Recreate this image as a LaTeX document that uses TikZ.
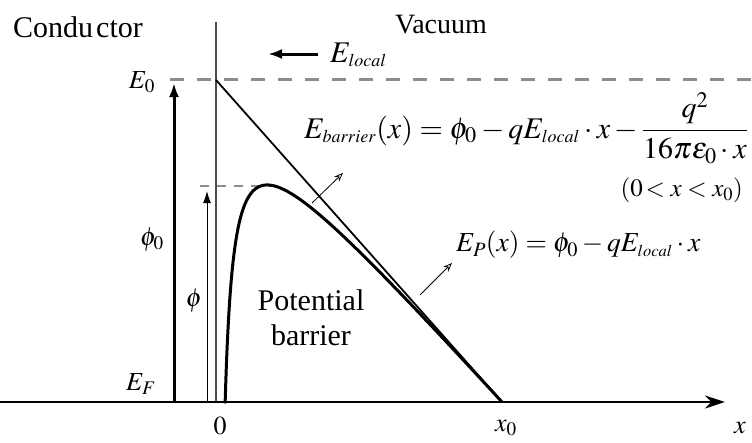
\documentclass[tikz,border=0pt]{standalone}
\usepackage{mathptmx}
\usepackage[no-math]{fontspec}
\setmainfont{Liberation Serif}
\usetikzlibrary{arrows.meta}
\newcommand{\tinysub}[1]{{\scriptscriptstyle #1}}
\begin{document}
\begin{tikzpicture}[x=1pt,y=-1pt,
  txt/.style={font=\fontsize{30}{35}\selectfont, inner sep=0pt},
  vtxt/.style={font=\fontsize{28}{33}\selectfont, inner sep=0pt},
  mth/.style={font=\fontsize{26}{30}\selectfont, inner sep=0pt},
  eq/.style={font=\fontsize{30}{34}\selectfont, inner sep=0pt},
  eqp/.style={font=\fontsize{27.5}{32}\selectfont, inner sep=0pt},
  eqc/.style={font=\fontsize{25}{30}\selectfont, inner sep=0pt},
  wall/.style={draw=black!70, line width=1.5pt},
  level/.style={draw=black!45, line width=3pt, dash pattern=on 14pt off 13pt},
  peakdash/.style={draw=black!45, line width=1.5pt, dash pattern=on 9pt off 8pt},
  bigarrow/.style={draw=black, line width=3pt, -{Latex[length=14pt,width=10pt]}},
  thinarrow/.style={draw=black, line width=1pt, -{Latex[length=12pt,width=8pt]}},
  axisarrow/.style={draw=black, line width=2.5pt, -{Stealth[length=20pt,width=13pt]}},
  note/.style={draw=black, line width=0.8pt, -{Stealth[open,length=9pt,width=7pt]}},
  potline/.style={draw=black, line width=1.8pt},
  barrier/.style={draw=black, line width=3pt, line join=round, line cap=round}]
\useasboundingbox (0,0) rectangle (752,442);
% coordinates
\coordinate (axL) at (0,402);
\coordinate (axR) at (725,402);
\coordinate (wallT) at (216,22);
\coordinate (wallB) at (216,402);
\coordinate (E0L) at (170,79);
\coordinate (E0R) at (752,79);
\coordinate (phi0B) at (174,402);
\coordinate (phi0T) at (174,83);
\coordinate (phiB) at (207,402);
\coordinate (phiT) at (207,191);
\coordinate (pkL) at (200,186);
\coordinate (pkR) at (272,186);
\coordinate (lineT) at (216,80);
\coordinate (x0) at (502,402);
\coordinate (elS) at (318,54);
\coordinate (elE) at (268,54);
\coordinate (a1S) at (312,203);
\coordinate (a1E) at (343,173);
\coordinate (a2S) at (420,295);
\coordinate (a2E) at (452,263);
% lines
\draw[level] (E0L) -- (E0R);
\draw[wall] (wallT) -- (wallB);
\draw[peakdash] (pkL) -- (pkR);
\draw[bigarrow] (phi0B) -- (phi0T);
\draw[thinarrow] (phiB) -- (phiT);
\draw[bigarrow] (elS) -- (elE);
\draw[potline] (lineT) -- (x0);
% barrier: height above axis = 332.31 - 1.12587 u - 2950/u, u = x - 216, u = t^2
\draw[barrier] plot[domain=3.025:16.912, samples=300, variable=\t]
  ({216+\t*\t},{402-(332.31-1.12587*\t*\t-2950/(\t*\t))});
\draw[axisarrow] (axL) -- (axR);
\draw[note] (a1S) -- (a1E);
\draw[note] (a2S) -- (a2E);
% labels
\node[txt] (cond) at (78,27) {Condu\kern3pt ctor};
\node[vtxt] (vac) at (441,25) {Vacuum};
\node[eq, anchor=west] (elab) at (330,55) {$E_\tinysub{local}$};
\node[mth] (E0) at (142,82) {$E_0$};
\node[mth] (phi0) at (152,240) {$\phi_0$};
\node[mth] (EF) at (141,384) {$E_F$};
\node[mth] (phi) at (194,301) {$\phi$};
\node[mth] (zero) at (220,426) {$0$};
\node[mth] (x0l) at (506,428) {$x_0$};
\node[mth] (xl) at (740,428) {$x$};
\node[txt, align=center] (pb) at (311,318) {Potential\\barrier};
\node[eq, anchor=west] (fb) at (304,128) {$\displaystyle E_\tinysub{barrier}(x)=\phi_0-qE_\tinysub{local}\cdot x-\frac{q^2}{16\pi\varepsilon_0\cdot x}$};
\node[eqc, anchor=east] (cnd) at (743,190) {$(0\!<x<x_0)$};
\node[eqp, anchor=west] (fp) at (456,245) {$E_P(x)=\phi_0-qE_\tinysub{local}\cdot x$};
\end{tikzpicture}
\end{document}
